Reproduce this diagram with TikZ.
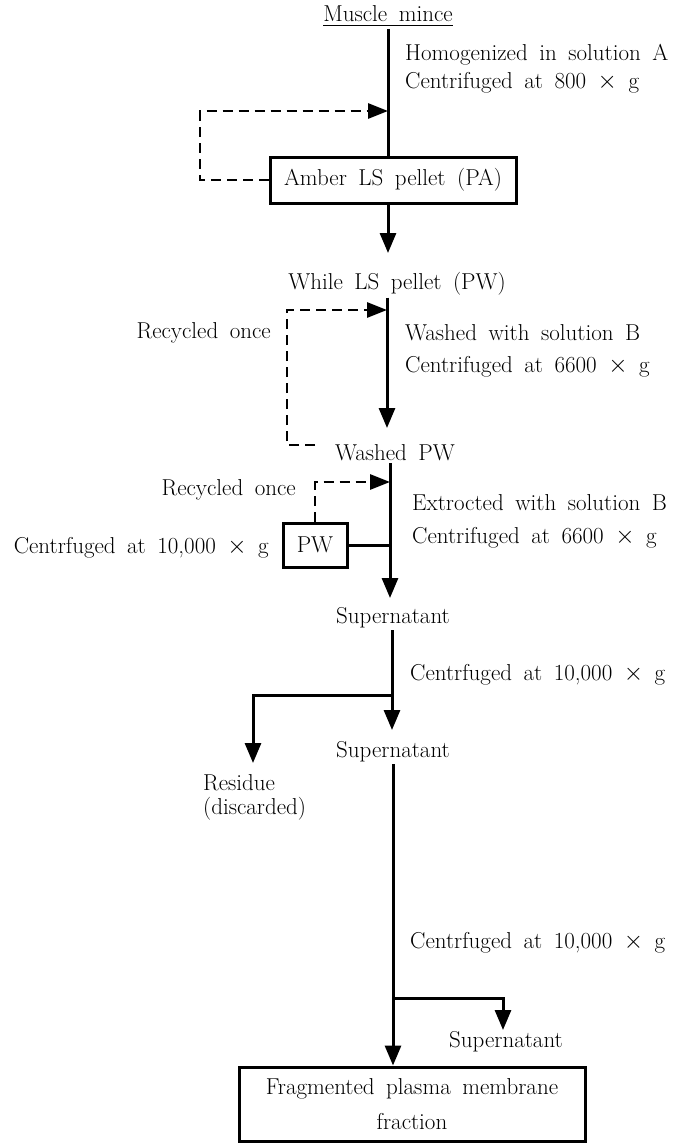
\documentclass[tikz,border=0pt]{standalone}
\usepackage{amsmath}
\usetikzlibrary{arrows.meta}

\newcommand{\figfont}{\fontsize{23}{24}\selectfont\spaceskip=0.5em plus 0.1em minus 0.05em}

\begin{document}
\begin{tikzpicture}[x=1pt,y=-1pt,
    lbl/.style={inner sep=2pt,font=\figfont},
    stepbox/.style={draw,line width=3pt,inner sep=0pt,font=\figfont,align=center},
    flow/.style={line width=3pt},
    arr/.style={flow,-{Triangle[length=20pt,width=16pt]}},
    recyc/.style={line width=2.8pt,dash pattern=on 10pt off 6pt,-{Triangle[length=20pt,width=15pt]}}]
    \useasboundingbox (0,0) rectangle (677,1143);

    % first step
    \node[lbl] (mince) at (388,16) {\underline{Muscle mince}};
    \node[lbl,anchor=west] (homog) at (403,55) {Homogenized in solution A};
    \node[lbl,anchor=west] (cent1) at (403,83) {Centrifuged at 800 $\times$ g};
    \node[stepbox,minimum width=246pt,minimum height=46pt] (pa) at (393,180) {Amber LS pellet (PA)};
    \coordinate (j1) at (388,111);
    \coordinate (loop1) at (200,111);
    \coordinate (t1) at (388,253);
    \draw[flow] (mince.south) -- (mince.south |- pa.north);
    \draw[recyc] (pa.west) -| (loop1) -- (j1);
    \draw[arr] (pa.south -| j1) -- (t1);

    % washing
    \node[lbl] (white) at (397,284) {While LS pellet (PW)};
    \node[lbl,anchor=east] (rec1) at (273,333) {Recycled once};
    \node[lbl,anchor=west] (wash1) at (403,333) {Washed with solution B};
    \node[lbl,anchor=west] (cent2) at (403,367) {Centrifuged at 6600 $\times$ g};
    \node[lbl] (washed) at (395,453) {Washed PW};
    \coordinate (j2) at (387,310);
    \coordinate (t2) at (387,428);
    \coordinate (loop2a) at (315,445);
    \coordinate (loop2b) at (287,310);
    \draw[arr] (white.south -| j2) -- (t2);
    \draw[recyc] (loop2a) -| (loop2b) -- (j2);

    % extraction
    \node[lbl,anchor=east] (rec2) at (298,490) {Recycled once};
    \node[lbl,anchor=east] (cent3) at (271,548) {Centrfuged at 10,000 $\times$ g};
    \node[lbl,anchor=west] (extr) at (410,503) {Extrocted with solution B};
    \node[lbl,anchor=west] (cent4) at (410,538) {Centrifuged at 6600 $\times$ g};
    \node[stepbox,minimum width=64pt,minimum height=44pt] (pw) at (315,545) {PW};
    \coordinate (j3) at (390,482);
    \coordinate (t3) at (390,598);
    \draw[arr] (washed.south -| j3) -- (t3);
    \draw[recyc] (pw.north) |- (j3);
    \draw[flow] (pw.east) -- (pw.east -| j3);

    % supernatants
    \node[lbl] (sup1) at (393,618) {Supernatant};
    \node[lbl,anchor=west] (cent5) at (408,675) {Centrfuged at 10,000 $\times$ g};
    \node[lbl] (sup2) at (393,752) {Supernatant};
    \node[lbl,anchor=west,align=left] (resid) at (201,797) {Residue\\(discarded)};
    \coordinate (j4) at (392,695);
    \coordinate (t4) at (392,730);
    \coordinate (t5) at (253,763);
    \draw[arr] (sup1.south -| j4) -- (t4);
    \draw[arr] (j4) -| (t5);

    % last step
    \node[lbl,anchor=west] (cent6) at (408,943) {Centrfuged at 10,000 $\times$ g};
    \node[lbl] (sup3) at (506,1042) {Supernatant};
    \node[stepbox,minimum width=346pt,minimum height=74pt] (frac) at (412,1104) {Fragmented plasma membrane\\[11pt]fraction};
    \coordinate (j6) at (393,998);
    \coordinate (t6) at (503,1030);
    \draw[arr] (sup2.south -| j6) -- (frac.north -| j6);
    \draw[arr] (j6) -| (t6);
\end{tikzpicture}
\end{document}
